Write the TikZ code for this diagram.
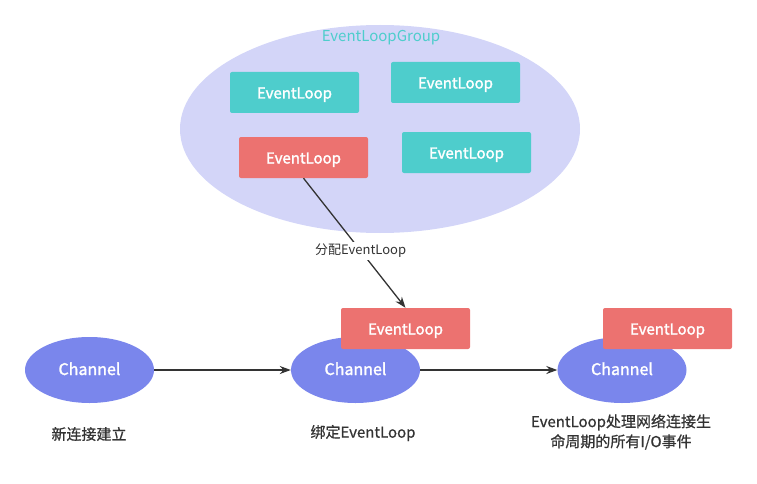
\documentclass[tikz,border=0pt]{standalone}
\usepackage{fontspec}
\setmainfont{Noto Sans CJK SC}
\newfontfamily\medfont[FakeBold=0.8]{Noto Sans CJK SC}
\newfontfamily\semifont[FakeBold=1.8]{Noto Sans CJK SC}
\usetikzlibrary{arrows.meta,shapes.geometric}
\definecolor{grpfill}{HTML}{D3D5F8}
\definecolor{teal}{HTML}{4ECDCC}
\definecolor{redbox}{HTML}{EC7270}
\definecolor{chan}{HTML}{7A86EC}
\definecolor{linec}{HTML}{333333}
\tikzset{
  elbox/.style={rectangle, rounded corners=2pt, minimum width=129pt, minimum height=41pt, inner sep=0pt, text=white, text height=15pt, text depth=3pt, font=\semifont\fontsize{15}{17}\selectfont},
  tealbox/.style={elbox, fill=teal},
  redel/.style={elbox, fill=redbox},
  chanell/.style={ellipse, fill=chan, minimum width=129pt, minimum height=66pt, inner sep=0pt, text=white, text height=13pt, text depth=3pt, font=\semifont\fontsize{16}{18}\selectfont},
  conn/.style={draw=linec, line width=1.3pt, -{Stealth[length=11pt,width=8pt]}},
  lbl/.style={font=\fontsize{13}{18}\selectfont, text=linec, align=center},
  bottomlbl/.style={font=\medfont\fontsize{15}{20}\selectfont, text=linec, align=center}
}
\begin{document}
\begin{tikzpicture}[x=1pt,y=-1pt]
\useasboundingbox (0,0) rectangle (757,484);
\node[ellipse, fill=grpfill, minimum width=400pt, minimum height=208pt, inner sep=0pt] (grp) at (380,129) {};
\node[text=teal, font=\fontsize{15}{17}\selectfont] (grplbl) at (381,38) {EventLoopGroup};
\node[tealbox] (el1) at (294.5,92.5) {EventLoop};
\node[tealbox] (el2) at (455.5,82.5) {EventLoop};
\node[redel] (elr) at (303.5,157.5) {EventLoop};
\node[tealbox] (el4) at (466.5,152.5) {EventLoop};

\node[chanell] (ch1) at (89.5,370) {Channel};
\node[chanell] (ch2) at (355.5,370) {Channel};
\node[chanell] (ch3) at (622,370) {Channel};
\node[redel] (bel2) at (405.5,328.5) {EventLoop};
\node[redel] (bel3) at (667.5,328.5) {EventLoop};

\draw[conn] (elr.south) -- (bel2.north) node[pos=0.56, fill=white, lbl, inner sep=2pt] (assign) {分配EventLoop};
\draw[conn] (ch1.east) -- (ch2.west);
\draw[conn] (ch2.east) -- (ch3.west);

\node[bottomlbl] (t1) at (89,434) {新连接建立};
\node[bottomlbl] (t2) at (363,433) {绑定EventLoop};
\node[bottomlbl] (t3) at (621,432) {EventLoop处理网络连接生\\命周期的所有I/O事件};
\end{tikzpicture}
\end{document}
